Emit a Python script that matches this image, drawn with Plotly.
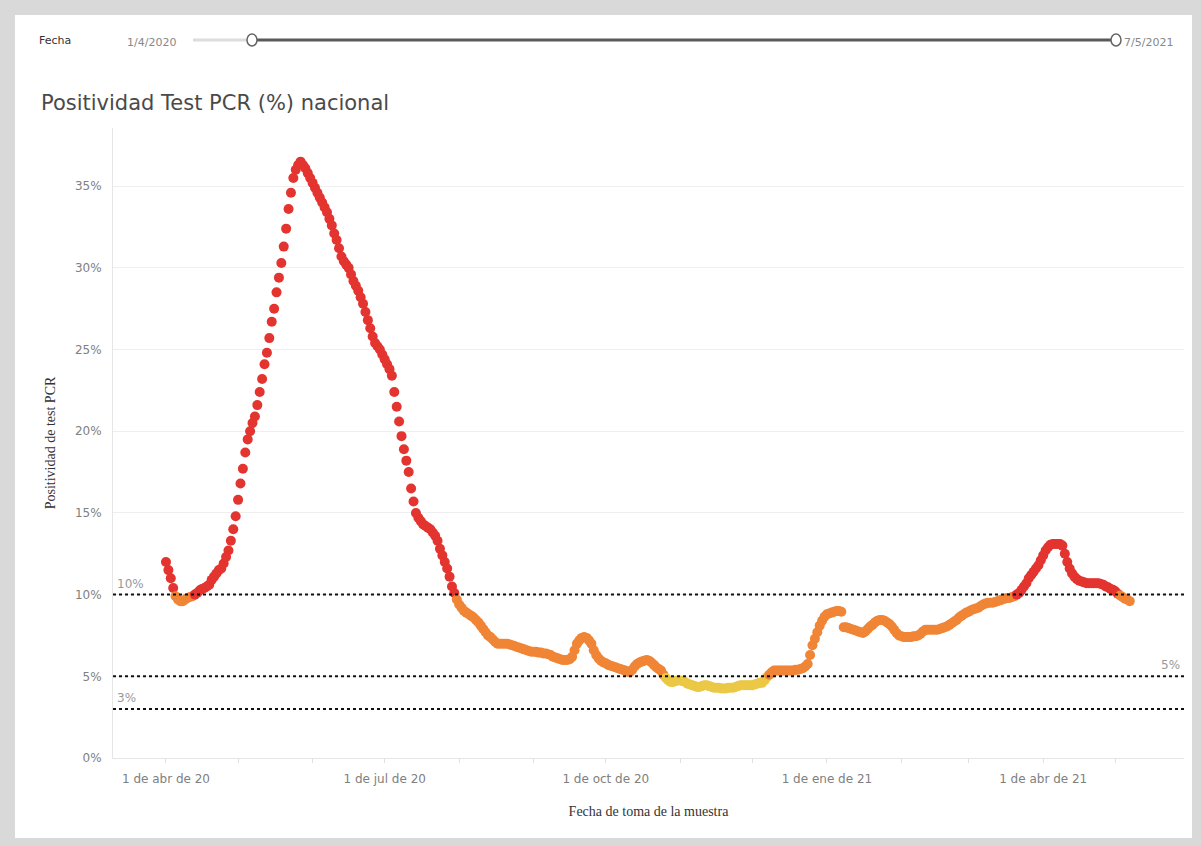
import pandas as pd
import plotly.graph_objects as go

# ---------------- data (daily PCR positivity, %) ----------------
START_DATE = "2020-04-01"

apr20 = [12.0, 11.5, 11.0, 10.4, 9.9, 9.7, 9.6, 9.6, 9.7, 9.8, 9.85, 9.9, 10.0, 10.1, 10.25,
         10.35, 10.4, 10.5, 10.6, 10.9, 11.1, 11.3, 11.5, 11.6, 11.9, 12.3, 12.7, 13.3, 14.0, 14.8]
may20 = [15.8, 16.8, 17.7, 18.7, 19.5, 20.0, 20.5, 20.9, 21.6, 22.4, 23.2, 24.1, 24.8, 25.7, 26.7,
         27.5, 28.5, 29.4, 30.3, 31.3, 32.4, 33.6, 34.6, 35.5, 36.0, 36.3, 36.5, 36.3, 36.1, 35.8, 35.5]
jun20 = [35.2, 34.9, 34.6, 34.3, 34.0, 33.7, 33.4, 33.0, 32.6, 32.1, 31.7, 31.2, 30.7, 30.4, 30.2,
         30.0, 29.6, 29.2, 28.9, 28.6, 28.2, 27.8, 27.3, 26.8, 26.3, 25.8, 25.4, 25.2, 25.0, 24.7]
jul20 = [24.4, 24.1, 23.8, 23.4, 22.4, 21.5, 20.6, 19.7, 18.9, 18.2, 17.5, 16.5, 15.7, 15.0, 14.7,
         14.5, 14.3, 14.2, 14.1, 14.0, 13.8, 13.6, 13.3, 12.8, 12.4, 12.0, 11.6, 11.1, 10.5, 10.1, 9.7]
aug20 = [9.4, 9.2, 9.0, 8.9, 8.8, 8.7, 8.6, 8.45, 8.3, 8.1, 7.9, 7.7, 7.5, 7.4, 7.25, 7.1, 7.0,
         7.0, 7.0, 7.0, 7.0, 6.95, 6.9, 6.85, 6.8, 6.75, 6.7, 6.65, 6.6, 6.55, 6.5]
sep20 = [6.5, 6.5, 6.45, 6.45, 6.4, 6.4, 6.35, 6.3, 6.2, 6.15, 6.1, 6.05, 6.0, 6.0, 6.0, 6.05,
         6.2, 6.6, 7.0, 7.2, 7.35, 7.4, 7.35, 7.2, 7.0, 6.6, 6.3, 6.1, 5.95, 5.85]
oct20 = [5.8, 5.7, 5.65, 5.6, 5.55, 5.5, 5.45, 5.4, 5.35, 5.3, 5.25, 5.4, 5.6, 5.75, 5.85, 5.9,
         5.95, 6.0, 5.95, 5.85, 5.7, 5.55, 5.45, 5.35, 5.1, 4.9, 4.75, 4.65, 4.65, 4.7, 4.75]
nov20 = [4.75, 4.7, 4.65, 4.55, 4.5, 4.45, 4.4, 4.35, 4.35, 4.4, 4.45, 4.45, 4.4, 4.35, 4.3,
         4.3, 4.3, 4.25, 4.25, 4.25, 4.3, 4.3, 4.3, 4.35, 4.4, 4.45, 4.45, 4.45, 4.45, 4.45]
dec20 = [4.45, 4.5, 4.55, 4.6, 4.6, 4.75, 4.95, 5.1, 5.25, 5.35, 5.35, 5.35, 5.35, 5.35, 5.35,
         5.35, 5.35, 5.35, 5.4, 5.4, 5.45, 5.5, 5.6, 5.75, 6.3, 6.9, 7.3, 7.7, 8.1, 8.4, 8.65]
jan21 = [8.8, 8.85, 8.9, 8.95, 9.0, 9.0, 8.95, 8.0, 8.0, 7.95, 7.9, 7.85, 7.8, 7.75, 7.7, 7.65,
         7.75, 7.9, 8.05, 8.15, 8.3, 8.4, 8.45, 8.45, 8.4, 8.3, 8.2, 8.05, 7.85, 7.65, 7.5]
feb21 = [7.45, 7.4, 7.4, 7.4, 7.4, 7.45, 7.45, 7.5, 7.6, 7.75, 7.85, 7.85, 7.85, 7.85, 7.85,
         7.85, 7.9, 7.95, 8.0, 8.05, 8.15, 8.25, 8.35, 8.45, 8.6, 8.7, 8.8, 8.9]
mar21 = [8.95, 9.05, 9.1, 9.15, 9.2, 9.3, 9.4, 9.45, 9.5, 9.5, 9.5, 9.55, 9.6, 9.65, 9.7, 9.75,
         9.8, 9.8, 9.85, 9.9, 10.0, 10.1, 10.3, 10.5, 10.7, 11.0, 11.2, 11.4, 11.6, 11.8, 12.1]
apr21 = [12.4, 12.7, 12.9, 13.05, 13.1, 13.1, 13.1, 13.1, 13.0, 12.5, 12.0, 11.6, 11.3, 11.1,
         10.95, 10.85, 10.8, 10.75, 10.7, 10.7, 10.7, 10.7, 10.7, 10.7, 10.65, 10.6, 10.5, 10.45,
         10.35, 10.3]
may21 = [10.2, 10.05, 9.95, 9.85, 9.75, 9.7, 9.6]

TICK_VALS = ["2020-04-01", "2020-07-01", "2020-10-01", "2021-01-01", "2021-04-01"]
TICK_TEXT = ["1 de abr de 20", "1 de jul de 20", "1 de oct de 20", "1 de ene de 21", "1 de abr de 21"]
Y_TICKS = [0, 5, 10, 15, 20, 25, 30, 35]
Y_TICK_TEXT = ["0%", "5%", "10%", "15%", "20%", "25%", "30%", "35%"]
REF_LINES = [10, 5, 3]
REF_LABELS = ["10%", "5%", "3%"]
SLIDER_START = "1/4/2020"
SLIDER_END = "7/5/2021"

values = apr20 + may20 + jun20 + jul20 + aug20 + sep20 + oct20 + nov20 + dec20 + \
    jan21 + feb21 + mar21 + apr21 + may21
dates = pd.date_range(START_DATE, periods=len(values), freq="D")

RED, ORANGE, YELLOW = "#e3342f", "#f08536", "#ebc845"
colors = [RED if v >= 10 else (ORANGE if v >= 5 else YELLOW) for v in values]

SANS = "DejaVu Sans"
SERIF = "Liberation Serif"

# ---------------- layout geometry ----------------
W, H = 1201, 846
L, R, T, B = 113, 17, 128, 88
PW, PH = W - L - R, H - T - B


def px(x):
    return (x - L) / PW


def py(y):
    return (H - B - y) / PH


fig = go.Figure()
fig.add_trace(go.Scatter(
    x=dates, y=values, mode="markers",
    marker=dict(color=colors, size=10, line=dict(width=0)),
    hoverinfo="x+y", showlegend=False,
))

shapes = [
    # white card on grey dashboard background
    dict(type="rect", xref="paper", yref="paper", x0=px(15), x1=px(1192), y0=py(838), y1=py(15),
         fillcolor="white", line=dict(width=0), layer="below"),
    # slider tracks
    dict(type="line", xref="paper", yref="paper", x0=px(193), x1=px(250), y0=py(40), y1=py(40),
         line=dict(color="#dddddd", width=3)),
    dict(type="line", xref="paper", yref="paper", x0=px(254), x1=px(1114), y0=py(40), y1=py(40),
         line=dict(color="#5a5a5a", width=3)),
    dict(type="circle", xref="paper", yref="paper", x0=px(247), x1=px(257), y0=py(46), y1=py(34),
         fillcolor="white", line=dict(color="#666666", width=1.5)),
    dict(type="circle", xref="paper", yref="paper", x0=px(1111), x1=px(1121), y0=py(46), y1=py(34),
         fillcolor="white", line=dict(color="#666666", width=1.5)),
]
for v in REF_LINES:
    shapes.append(dict(type="line", xref="paper", yref="y", x0=0, x1=1, y0=v, y1=v,
                       line=dict(color="#111111", width=2, dash="dot")))

annotations = [
    dict(text="Fecha", x=px(37), y=py(40), xref="paper", yref="paper", xanchor="left",
         yanchor="middle", showarrow=False, font=dict(family=SANS, size=11, color="#333333")),
    dict(text=SLIDER_START, x=px(125), y=py(42), xref="paper", yref="paper", xanchor="left",
         yanchor="middle", showarrow=False, font=dict(family=SANS, size=11, color="#888888")),
    dict(text=SLIDER_END, x=px(1122), y=py(42), xref="paper", yref="paper", xanchor="left",
         yanchor="middle", showarrow=False, font=dict(family=SANS, size=11, color="#888888")),
    dict(text="Positividad Test PCR (%) nacional", x=px(39), y=py(103), xref="paper", yref="paper",
         xanchor="left", yanchor="middle", showarrow=False,
         font=dict(family=SANS, size=21, color="#4a4a4a")),
]
for v, lab in zip(REF_LINES, REF_LABELS):
    right = (v == 5)
    annotations.append(dict(
        text=lab, x=px(1182) if right else px(115), y=v, xref="paper", yref="y",
        xanchor="right" if right else "left", yanchor="middle", yshift=11,
        showarrow=False, font=dict(family=SANS, size=12, color="#999999")))

fig.update_layout(
    width=W, height=H,
    margin=dict(l=L, r=R, t=T, b=B),
    paper_bgcolor="#d9d9d9", plot_bgcolor="white",
    shapes=shapes, annotations=annotations,
    showlegend=False,
    xaxis=dict(
        type="date",
        range=["2020-03-09 23:00", "2021-05-29 14:00"],
        tickvals=TICK_VALS, ticktext=TICK_TEXT,
        tickfont=dict(family=SANS, size=12, color="#808080"),
        ticks="outside", ticklen=4, tickcolor="#e0e0e0", ticklabelstandoff=6,
        minor=dict(dtick="M1", tick0="2020-04-01", ticks="outside", ticklen=4,
                   tickcolor="#e0e0e0", showgrid=False),
        showgrid=False, zeroline=False,
        showline=True, linecolor="#e6e6e6", linewidth=1,
        title=dict(text="Fecha de toma de la muestra", standoff=20,
                   font=dict(family=SERIF, size=14, color="#333333")),
    ),
    yaxis=dict(
        range=[0, 38.56],
        tickvals=Y_TICKS, ticktext=Y_TICK_TEXT,
        tickfont=dict(family=SANS, size=12, color="#808080"),
        ticks="", ticklabelstandoff=8,
        showgrid=True, gridcolor="#efefef", gridwidth=1, zeroline=False,
        showline=True, linecolor="#e6e6e6", linewidth=1,
        title=dict(text="Positividad de test PCR", standoff=16,
                   font=dict(family=SERIF, size=14, color="#333333")),
    ),
)

fig.write_html(
    "out.html",
    config={"displayModeBar": False},
    post_script="document.body.style.margin='0';document.body.style.background='#d9d9d9';",
)
